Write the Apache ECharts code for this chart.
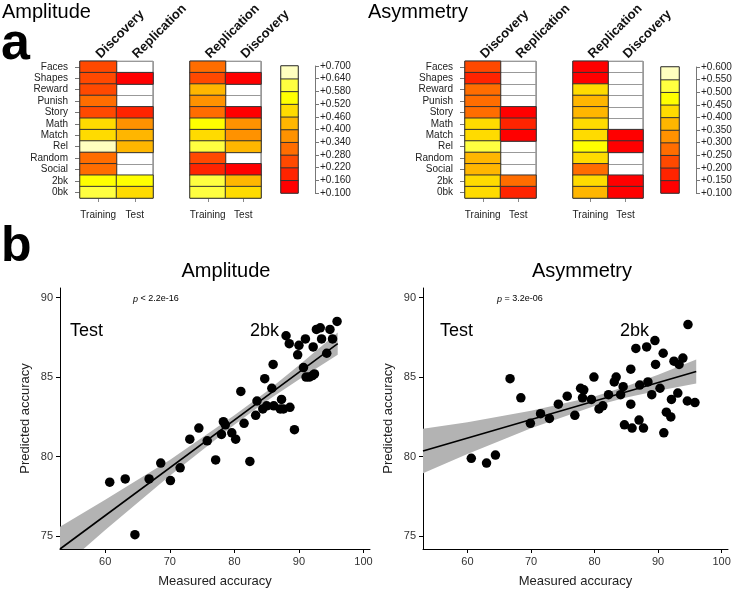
<!DOCTYPE html>
<html>
<head>
<meta charset="utf-8">
<title>Amplitude / Asymmetry</title>
<script src="https://cdn.jsdelivr.net/npm/echarts@6/dist/echarts.min.js"></script>
<style>
html,body{margin:0;padding:0;background:#fff;}
#main{width:745px;height:589px;}
</style>
</head>
<body>
<div id="main"></div>
<script>
var FONT = '"Liberation Sans", Arial, sans-serif';

// ---- panel a : heatmaps ----
var rows = ['Faces','Shapes','Reward','Punish','Story','Math','Match','Rel','Random','Social','2bk','0bk'];
var cols = ['Training','Test'];
var headLeft = ['Discovery','Replication'];
var headRight = ['Replication','Discovery'];

var heatColors = ['#FF0000','#FF2400','#FF4900','#FF6D00','#FF9200','#FFB600','#FFDB00','#FFFF00','#FFFF40','#FFFFBF'];
var ampBreaks = [0.10,0.16,0.22,0.28,0.34,0.40,0.46,0.52,0.58,0.64,0.70];
var asymBreaks = [0.10,0.15,0.20,0.25,0.30,0.35,0.40,0.45,0.50,0.55,0.60];

// amplitude (null = not significant, drawn white)
var ampDiscTrain = [0.25,0.24,0.26,0.30,0.24,0.49,0.48,0.67,0.31,0.30,0.55,0.61];
var ampReplTest  = [null,0.12,null,null,0.19,0.37,0.43,0.42,null,null,0.56,0.49];
var ampReplTrain = [0.33,0.25,0.43,0.37,0.31,0.55,0.48,0.60,0.23,0.19,0.61,0.60];
var ampDiscTest  = [null,0.12,null,null,0.13,0.37,0.38,0.42,null,0.13,0.43,0.48];
// asymmetry
var asymDiscTrain = [0.22,0.18,0.27,0.27,0.27,0.43,0.42,0.52,0.38,0.37,0.44,0.43];
var asymReplTest  = [null,null,null,null,0.12,0.17,0.13,null,null,null,0.28,0.17];
var asymReplTrain = [0.12,0.12,0.43,0.37,0.38,0.43,0.42,0.48,0.43,0.27,0.43,0.38];
var asymDiscTest  = [null,null,null,null,null,null,0.12,0.13,null,null,0.12,0.13];

// ---- panel b : scatter ----
var ampMeasured  = [60.7,63.1,64.6,66.8,68.6,70.1,71.6,73.1,74.5,75.8,77.1,78.0,78.3,78.6,79.6,80.2,81.0,81.5,82.4,83.3,83.5,84.4,84.7,85.0,85.8,86.0,86.1,87.1,87.3,87.6,88.0,88.5,88.6,89.3,89.8,90.0,90.7,91.0,91.1,91.6,92.1,92.4,92.2,92.7,93.3,93.5,94.3,94.8,95.2,95.9];
var ampPredicted = [78.4,78.6,75.1,78.6,79.6,78.5,79.3,81.1,81.8,81.0,79.8,81.4,82.2,82.0,81.5,81.1,84.1,82.1,79.7,82.6,83.5,83.0,84.9,83.2,84.3,85.8,83.2,83.0,83.6,83.0,87.6,87.1,83.1,81.7,86.4,87.0,85.6,87.4,85.0,85.0,85.1,85.2,86.9,88.0,88.1,87.4,86.5,88.0,87.4,88.5];
var ampFitX = [53,96];
var ampFitY = [74.2,87.1];
var ampBandX    = [53,60,70,80,85,90,96];
var ampBandLow  = [72.9,75.4,78.8,82.0,83.5,84.85,86.4];
var ampBandHigh = [75.6,77.3,79.8,82.6,84.1,85.75,87.8];

var asymMeasured  = [60.6,63.0,64.4,66.7,68.4,69.9,71.5,72.9,74.3,75.7,76.9,77.8,78.3,78.1,79.5,79.9,80.7,81.3,82.2,83.1,83.4,84.1,84.5,84.7,85.7,85.7,85.9,86.5,87.0,87.1,87.7,88.2,88.4,89.0,89.5,89.6,90.3,90.8,90.9,91.3,92.0,92.1,92.5,93.1,93.3,93.9,94.7,94.6,95.8];
var asymPredicted = [79.9,79.6,80.1,84.9,83.7,82.1,82.7,82.4,83.3,83.8,82.6,84.3,84.2,83.7,83.6,85.0,83.0,83.2,83.9,84.7,85.0,83.9,84.4,82.0,85.5,83.3,81.8,86.8,82.3,84.5,81.8,86.9,84.7,83.9,87.3,85.8,84.3,86.5,81.5,82.8,82.5,83.6,86.0,84.0,85.8,86.2,88.3,83.5,83.4];
var asymFitX = [53,96];
var asymFitY = [80.36,85.35];
var asymBandX    = [53,60,70,80,85,90,96];
var asymBandLow  = [78.96,80.17,81.78,83.19,83.72,84.15,84.6];
var asymBandHigh = [81.76,82.17,82.88,83.79,84.42,85.15,86.1];

var xTicks = [60,70,80,90,100];
var yTicks = [75,80,85,90];

function cells(train, test){
	var out = [];
	for(var i=0;i<rows.length;i++){
		if(train[i]!=null) out.push([0,i,train[i]]);
		if(test[i]!=null) out.push([1,i,test[i]]);
	}
	return out;
}
function pieces(breaks){
	var p = [];
	for(var i=0;i<heatColors.length;i++){
		p.push({gte:breaks[i], lt:breaks[i+1], color:heatColors[i]});
	}
	p[p.length-1].lte = breaks[breaks.length-1];
	delete p[p.length-1].lt;
	return p;
}
function barCells(breaks){
	var out = [];
	for(var i=0;i<heatColors.length;i++) out.push([0,i,breaks[i]]);
	return out;
}
function zip(a,b){
	var out = [];
	for(var i=0;i<a.length;i++) out.push([a[i],b[i]]);
	return out;
}

var grids = [
	{left:80, top:61, width:73, height:137},   // 0 amp left
	{left:190,top:61, width:71, height:137},   // 1 amp right
	{left:281,top:66, width:17, height:127},   // 2 amp colorbar
	{left:465,top:61, width:71, height:137},   // 3 asym left
	{left:573,top:61, width:70, height:137},   // 4 asym right
	{left:661,top:67, width:18, height:126},   // 5 asym colorbar
	{left:60, top:288,width:310,height:262},   // 6 amp scatter
	{left:423,top:288,width:305,height:261}    // 7 asym scatter
];
for(var g=0;g<6;g++){
	grids[g].show = true;
	grids[g].borderColor = '#666';
	grids[g].borderWidth = 1;
	grids[g].backgroundColor = '#fff';
}

function bottomAx(gi){
	return {type:'category', gridIndex:gi, data:cols, position:'bottom',
		axisLine:{show:false},
		axisTick:{show:true, alignWithLabel:true, interval:0, length:4, lineStyle:{color:'#888'}},
		axisLabel:{interval:0, margin:12, fontSize:10, color:'#222', fontFamily:FONT},
		splitLine:{show:true, interval:0, lineStyle:{color:'#999', width:1}}};
}
function topAx(gi, heads){
	return {type:'category', gridIndex:gi, data:heads, position:'top',
		axisLine:{show:false}, axisTick:{show:false},
		axisLabel:{interval:0, rotate:-45, margin:5, fontSize:13, fontWeight:'bold', color:'#111', fontFamily:FONT}};
}
function rowAx(gi, showLabel){
	return {type:'category', gridIndex:gi, data:rows, inverse:true,
		axisLine:{show:false},
		axisTick:{show:showLabel, interval:0, alignWithLabel:true, length:5, lineStyle:{color:'#777'}},
		axisLabel:{show:showLabel, interval:0, margin:12, fontSize:10, color:'#222', fontFamily:FONT},
		splitLine:{show:true, interval:0, lineStyle:{color:'#999', width:1}}};
}
function hiddenCat(gi, data){
	return {type:'category', gridIndex:gi, data:data, show:false};
}
function barLabelAx(gi, breaks, step){
	return {type:'value', gridIndex:gi, position:'right', offset:17,
		min:breaks[0], max:breaks[breaks.length-1], interval:step,
		axisLine:{show:true, lineStyle:{color:'#777'}},
		axisTick:{show:true, length:4, lineStyle:{color:'#777'}},
		axisLabel:{margin:5, fontSize:10, color:'#222', fontFamily:FONT,
			formatter:function(v){ return '+' + v.toFixed(3); }},
		splitLine:{show:false}};
}
function scatterX(gi){
	return {type:'value', gridIndex:gi, min:53, max:101,
		name:'Measured accuracy', nameLocation:'middle', nameGap:26,
		nameTextStyle:{fontSize:13, color:'#222', fontFamily:FONT},
		axisLine:{show:true, lineStyle:{color:'#000', width:1}},
		axisTick:{show:true, length:4, customValues:xTicks, lineStyle:{color:'#000'}},
		axisLabel:{margin:7, fontSize:11, color:'#333', fontFamily:FONT, customValues:xTicks},
		splitLine:{show:false}};
}
function scatterY(gi){
	return {type:'value', gridIndex:gi, min:74.2, max:90.6,
		name:'Predicted accuracy', nameLocation:'middle', nameGap:28,
		nameTextStyle:{fontSize:13, color:'#222', fontFamily:FONT},
		axisLine:{show:true, lineStyle:{color:'#000', width:1}},
		axisTick:{show:true, length:4, customValues:yTicks, lineStyle:{color:'#000'}},
		axisLabel:{margin:7, fontSize:11, color:'#333', fontFamily:FONT, customValues:yTicks},
		splitLine:{show:false}};
}

var xAxes = [
	bottomAx(0), topAx(0, headLeft),          // 0,1
	bottomAx(1), topAx(1, headRight),         // 2,3
	hiddenCat(2, ['']),                       // 4
	bottomAx(3), topAx(3, headLeft),          // 5,6
	bottomAx(4), topAx(4, headRight),         // 7,8
	hiddenCat(5, ['']),                       // 9
	scatterX(6), scatterX(7)                  // 10,11
];
var yAxes = [
	rowAx(0, true),                           // 0
	rowAx(1, false),                          // 1
	hiddenCat(2, heatColors),                 // 2
	barLabelAx(2, ampBreaks, 0.06),           // 3
	rowAx(3, true),                           // 4
	rowAx(4, false),                          // 5
	hiddenCat(5, heatColors),                 // 6
	barLabelAx(5, asymBreaks, 0.05),          // 7
	scatterY(6), scatterY(7)                  // 8,9
];

function heat(xi, yi, data){
	return {type:'heatmap', xAxisIndex:xi, yAxisIndex:yi, data:data, silent:true,
		itemStyle:{borderColor:'#333', borderWidth:1}};
}
// confidence band as one polygon, clipped to the plot area
function bandSeries(xi, yi, bx, lo, hi){
	return {type:'custom', xAxisIndex:xi, yAxisIndex:yi, silent:true,
		data:zip(bx, lo),
		renderItem:function(params, api){
			if(params.dataIndex !== 0) return;
			var pts = [], i;
			for(i=0;i<bx.length;i++) pts.push(api.coord([bx[i], hi[i]]));
			for(i=bx.length-1;i>=0;i--) pts.push(api.coord([bx[i], lo[i]]));
			var cs = params.coordSys;
			return {type:'polygon', shape:{points:pts},
				style:{fill:'#b3b3b3'},
				clipPath:{type:'rect', shape:{x:cs.x, y:cs.y, width:cs.width, height:cs.height}}};
		}};
}
function fitSeries(xi, yi, fx, fy){
	return {type:'line', xAxisIndex:xi, yAxisIndex:yi, symbol:'none', silent:true,
		lineStyle:{color:'#000', width:1.6}, data:zip(fx, fy)};
}
function dotSeries(xi, yi, mx, py){
	return {type:'scatter', xAxisIndex:xi, yAxisIndex:yi, symbolSize:9.5, silent:true,
		itemStyle:{color:'#000', opacity:1}, data:zip(mx, py)};
}

var series = [
	heat(0, 0, cells(ampDiscTrain, ampReplTest)),
	heat(2, 1, cells(ampReplTrain, ampDiscTest)),
	heat(4, 2, barCells(ampBreaks)),
	heat(5, 4, cells(asymDiscTrain, asymReplTest)),
	heat(7, 5, cells(asymReplTrain, asymDiscTest)),
	heat(9, 6, barCells(asymBreaks)),
	bandSeries(10, 8, ampBandX, ampBandLow, ampBandHigh),
	fitSeries(10, 8, ampFitX, ampFitY),
	dotSeries(10, 8, ampMeasured, ampPredicted),
	bandSeries(11, 9, asymBandX, asymBandLow, asymBandHigh),
	fitSeries(11, 9, asymFitX, asymFitY),
	dotSeries(11, 9, asymMeasured, asymPredicted)
];

function txt(x, y, s, font, align){
	return {type:'text', x:x, y:y, silent:true,
		style:{text:s, font:font, fill:'#000', align:align||'left', verticalAlign:'middle'}};
}
function pText(x, y, s){
	return {type:'text', x:x, y:y, silent:true,
		style:{text:'{i|p} ' + s, fill:'#000', align:'left', verticalAlign:'middle',
			font:'9px ' + FONT, rich:{i:{fontStyle:'italic', fontSize:9, fontFamily:FONT}}}};
}

var graphics = [
	txt(2, 12, 'Amplitude', '20px ' + FONT),
	txt(368, 12, 'Asymmetry', '20px ' + FONT),
	txt(1, 45, 'a', 'bold 52px ' + FONT),
	txt(1, 247, 'b', 'bold 50px ' + FONT),
	txt(226, 271, 'Amplitude', '20px ' + FONT, 'center'),
	txt(582, 271, 'Asymmetry', '20px ' + FONT, 'center'),
	txt(70, 331, 'Test', '18px ' + FONT),
	txt(250, 331, '2bk', '18px ' + FONT),
	txt(440, 331, 'Test', '18px ' + FONT),
	txt(620, 331, '2bk', '18px ' + FONT),
	pText(133, 299, '< 2.2e-16'),
	pText(497, 299, '= 3.2e-06')
];

var myChart = echarts.init(document.getElementById('main'));
var option = {
	backgroundColor:'#fff',
	animation:false,
	textStyle:{fontFamily:FONT},
	grid:grids,
	xAxis:xAxes,
	yAxis:yAxes,
	visualMap:[
		{type:'piecewise', show:false, seriesIndex:[0,1,2], dimension:2, pieces:pieces(ampBreaks)},
		{type:'piecewise', show:false, seriesIndex:[3,4,5], dimension:2, pieces:pieces(asymBreaks)}
	],
	graphic:graphics,
	series:series
};
myChart.setOption(option);
</script>
</body>
</html>
